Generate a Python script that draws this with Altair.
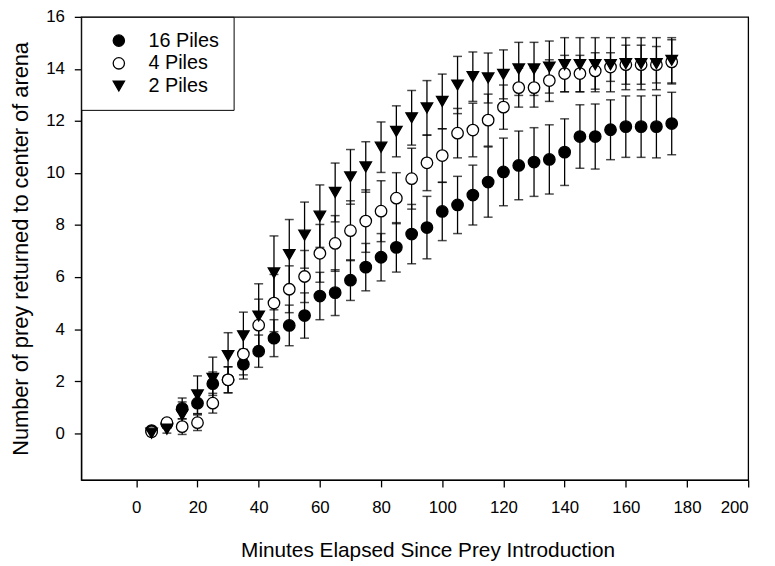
import altair as alt
import pandas as pd

minutes = [5, 10, 15, 20, 25, 30, 35, 40, 45, 50, 55, 60, 65, 70, 75, 80, 85, 90,
           95, 100, 105, 110, 115, 120, 125, 130, 135, 140, 145, 150, 155, 160,
           165, 170, 175]

series_names = ["16 Piles", "4 Piles", "2 Piles"]

piles16 = [0.1, 0.35, 0.95, 1.15, 1.9, 2.05, 2.65, 3.15, 3.65, 4.14, 4.52, 5.27,
           5.4, 5.88, 6.38, 6.76, 7.14, 7.65, 7.9, 8.52, 8.77, 9.15, 9.65, 10.04,
           10.29, 10.42, 10.52, 10.8, 11.4, 11.4, 11.66, 11.78, 11.78, 11.78, 11.9]
err16 = [0.1, 0.15, 0.4, 0.4, 0.45, 0.5, 0.57, 0.62, 0.71, 0.78, 0.87, 0.91,
         0.88, 0.78, 0.91, 0.91, 0.95, 1.14, 1.2, 1.12, 1.1, 1.15, 1.35, 1.3,
         1.32, 1.32, 1.33, 1.28, 1.22, 1.25, 1.15, 1.18, 1.18, 1.2, 1.2]

piles4 = [0.05, 0.4, 0.25, 0.4, 1.15, 2.05, 3.04, 4.15, 5.0, 5.53, 6.02, 6.91,
          7.29, 7.78, 8.15, 8.53, 9.03, 9.78, 10.39, 10.67, 11.53, 11.65, 12.03,
          12.53, 13.28, 13.28, 13.55, 13.82, 13.82, 13.92, 14.07, 14.16, 14.16,
          14.16, 14.27]
err4 = [0.1, 0.15, 0.3, 0.3, 0.38, 0.5, 0.8, 1.0, 1.1, 0.9, 1.0, 1.11, 1.07,
        1.15, 1.2, 1.17, 0.98, 1.17, 1.07, 1.03, 0.95, 1.03, 1.0, 0.85, 0.75,
        0.75, 0.8, 0.7, 0.7, 0.7, 0.55, 0.75, 0.75, 0.7, 0.85]

piles2 = [0.0, 0.15, 0.7, 1.47, 2.1, 2.98, 3.74, 4.5, 6.16, 6.86, 7.61, 8.34,
          9.25, 9.85, 10.23, 10.99, 11.6, 12.12, 12.5, 12.75, 13.38, 13.7, 13.65,
          13.79, 14.0, 14.0, 14.07, 14.16, 14.16, 14.16, 14.16, 14.2, 14.2, 14.2,
          14.33]
err2 = [0.1, 0.15, 0.5, 0.73, 0.82, 0.88, 0.91, 1.24, 1.42, 1.35, 1.27, 1.2,
        1.13, 1.05, 0.97, 0.97, 0.98, 1.05, 1.05, 1.05, 1.1, 0.95, 0.96, 0.94,
        1.02, 1.02, 1.0, 1.04, 1.04, 1.04, 1.04, 1.0, 1.0, 1.0, 0.87]

x_ticks = [0, 20, 40, 60, 80, 100, 120, 140, 160, 180, 200]
y_ticks = [0, 2, 4, 6, 8, 10, 12, 14, 16]

rows = []
for name, vals, errs in zip(series_names, [piles16, piles4, piles2], [err16, err4, err2]):
    for t, v, e in zip(minutes, vals, errs):
        rows.append({"t": t, "series": name, "value": v, "lo": v - e, "hi": v + e})
df = pd.DataFrame(rows)

FONT = "Liberation Sans"

x_enc = alt.X("t:Q", scale=alt.Scale(domain=[-18, 200], nice=False, zero=False),
              axis=alt.Axis(values=x_ticks, title="Minutes Elapsed Since Prey Introduction",
                            titleX=350, titleFontSize=21, titlePadding=24, labelPadding=13,
                            labelFontSize=17))
y_scale = alt.Scale(domain=[-1.8, 16], nice=False, zero=False)

base = alt.Chart(df)

rules = base.mark_rule(color="black", strokeWidth=1.3).encode(
    x=x_enc,
    y=alt.Y("lo:Q", scale=y_scale,
            axis=alt.Axis(values=y_ticks, title="Number of prey returned to center of arena",
                          titleFontSize=22, titlePadding=13, labelPadding=10, labelFontSize=17)),
    y2="hi:Q",
)
cap_hi = base.mark_tick(orient="horizontal", size=9, thickness=1.5, color="black").encode(
    x="t:Q", y=alt.Y("hi:Q", scale=y_scale))
cap_lo = base.mark_tick(orient="horizontal", size=9, thickness=1.5, color="black").encode(
    x="t:Q", y=alt.Y("lo:Q", scale=y_scale))

points = base.mark_point(filled=True, opacity=1, strokeWidth=1.3, size=135).encode(
    x="t:Q",
    y=alt.Y("value:Q", scale=y_scale),
    shape=alt.Shape("series:N", title=None,
                    scale=alt.Scale(domain=series_names, range=["circle", "circle", "triangle-down"]),
                    sort=series_names),
    fill=alt.Fill("series:N", title=None,
                  scale=alt.Scale(domain=series_names, range=["black", "white", "black"]),
                  sort=series_names),
    stroke=alt.Stroke("series:N", title=None,
                      scale=alt.Scale(domain=series_names, range=["black", "black", "black"]),
                      sort=series_names),
)

chart = alt.layer(rules, cap_hi, cap_lo, points).properties(
    width=674, height=468,
    autosize=alt.AutoSizeParams(type="none"),
    padding={"left": 74, "top": 6, "right": 19, "bottom": 84},
).configure_view(
    stroke="black", strokeWidth=1.3
).configure_axis(
    grid=False, domainColor="black", domainWidth=1.3, tickColor="black", tickSize=7,
    tickWidth=1.3, labelColor="black", titleColor="black", labelFont=FONT, titleFont=FONT,
    titleFontWeight="normal",
).configure_legend(
    orient="none", legendX=0, legendY=0, strokeColor="black", fillColor="white",
    padding=14, symbolSize=130, symbolStrokeColor="black", symbolStrokeWidth=1.3,
    labelFont=FONT, labelFontSize=20, labelColor="black", rowPadding=3,
    labelOffset=20, symbolOffset=14,
)

chart.save("out.html", embed_options={"renderer": "svg", "actions": False})
